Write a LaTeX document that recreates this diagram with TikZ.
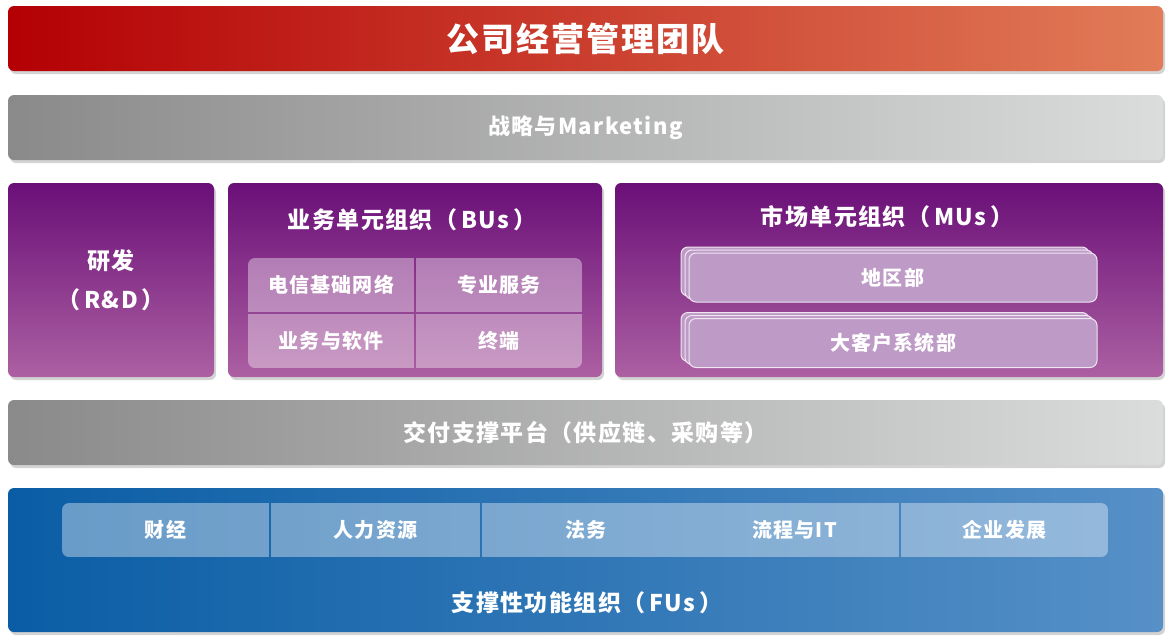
\documentclass[tikz,border=0pt]{standalone}
\usepackage{fontspec}
\setmainfont{Noto Sans CJK SC}[LetterSpace=6]
\usetikzlibrary{shadows}

\definecolor{rojoA}{RGB}{180,0,4}
\definecolor{rojoB}{RGB}{203,62,32}
\definecolor{rojoC}{RGB}{225,124,88}
\definecolor{grisA}{RGB}{138,138,138}
\definecolor{grisB}{RGB}{160,161,161}
\definecolor{grisC}{RGB}{219,220,220}
\definecolor{moradoA}{RGB}{106,15,120}
\definecolor{moradoB}{RGB}{172,96,162}
\definecolor{azulA}{RGB}{10,93,165}
\definecolor{azulB}{RGB}{86,144,199}
\definecolor{muclaro}{RGB}{190,155,198}

\tikzset{
  caja/.style={rounded corners=6, inner sep=0pt, text=white,
    font=\bfseries\fontsize{22}{24}\selectfont,
    drop shadow={shadow xshift=2pt, shadow yshift=-3pt, opacity=.35}},
  barra/.style={caja, minimum width=1155, minimum height=65},
  morado/.style={caja, top color=moradoA, bottom color=moradoB},
  titulo/.style={text=white, font=\bfseries\fontsize{23}{25}\selectfont},
  celda/.style={inner sep=0pt, fill=white, fill opacity=.38, text opacity=1,
    text=white, font=\bfseries\fontsize{20}{22}\selectfont, minimum height=54},
  mucapa/.style={rounded corners=7, inner sep=0pt, fill=muclaro,
    draw=white!75!muclaro, line width=1, text=white,
    font=\bfseries\fontsize{20}{22}\selectfont,
    minimum width=408, minimum height=49}
}

\begin{document}
\begin{tikzpicture}[x=1pt, y=-1pt]
        \useasboundingbox (0,0) rectangle (1173,643);

        % Barras horizontales
        \node[barra, left color=rojoA, middle color=rojoB, right color=rojoC,
              font=\bfseries\fontsize{33}{36}\selectfont] (equipo) at (585.5,38.5) {公司经营管理团队};
        \node[barra, left color=grisA, middle color=grisB, right color=grisC] (estrategia) at (585.5,127.5) {战略与Marketing};
        \node[barra, left color=grisA, middle color=grisB, right color=grisC,
              font=\bfseries\fontsize{23}{25}\selectfont] (entrega) at (585.5,432.5) {交付支撑平台（供应链、采购等）};

        % Cajas moradas
        \node[morado, minimum width=206, minimum height=194, align=center,
              font=\bfseries\fontsize{23}{25}\selectfont] (rd) at (111,280)
            {研发\\[14pt]（\hspace{4pt}R\&D\hspace{4pt}）};
        \node[morado, minimum width=374, minimum height=194] (bu) at (415,280) {};
        \node[morado, minimum width=548, minimum height=194] (mu) at (889,280) {};
        \node[titulo] (butit) at (412,220) {业务单元组织（\hspace{4pt}BUs\hspace{4pt}）};
        \node[titulo] (mutit) at (887,217) {市场单元组织（\hspace{4pt}MUs\hspace{4pt}）};

        % Celdas de las BUs
        \begin{scope}
            \clip[rounded corners=7] (248,258) rectangle (582,368);
            \foreach \x/\y/\t/\n in {331/285/电信基础网络/bua, 499/285/专业服务/bub,
                                     331/341/业务与软件/buc, 499/341/终端/bud}
                \node[celda, minimum width=166] (\n) at (\x,\y) {\t};
        \end{scope}

        % Unidades de mercado (apiladas)
        \foreach \y/\t/\n in {277.5/地区部/dq, 343/大客户系统部/kh} {
            \foreach \d in {8,4}
                \node[mucapa] (\n-\d) at (893-\d,\y-0.75*\d) {};
            \node[mucapa] (\n) at (893,\y) {\t};
        }

        % Funciones de soporte
        \node[caja, left color=azulA, right color=azulB, minimum width=1155, minimum height=144] (fu) at (585.5,560) {};
        \begin{scope}
            \clip[rounded corners=7] (62,503) rectangle (1108,557);
            \foreach \x/\w/\t/\n in {165.5/207/财经/fua, 375.5/209/人力资源/fub, 586/208/法务/fuc,
                                     794.5/209/流程与IT/fud, 1004.5/207/企业发展/fue}
                \node[celda, minimum width=\w] (\n) at (\x,530) {\t};
        \end{scope}
        \node[titulo] (futit) at (587,603) {支撑性功能组织（\hspace{4pt}FUs\hspace{4pt}）};
    \end{tikzpicture}
\end{document}
